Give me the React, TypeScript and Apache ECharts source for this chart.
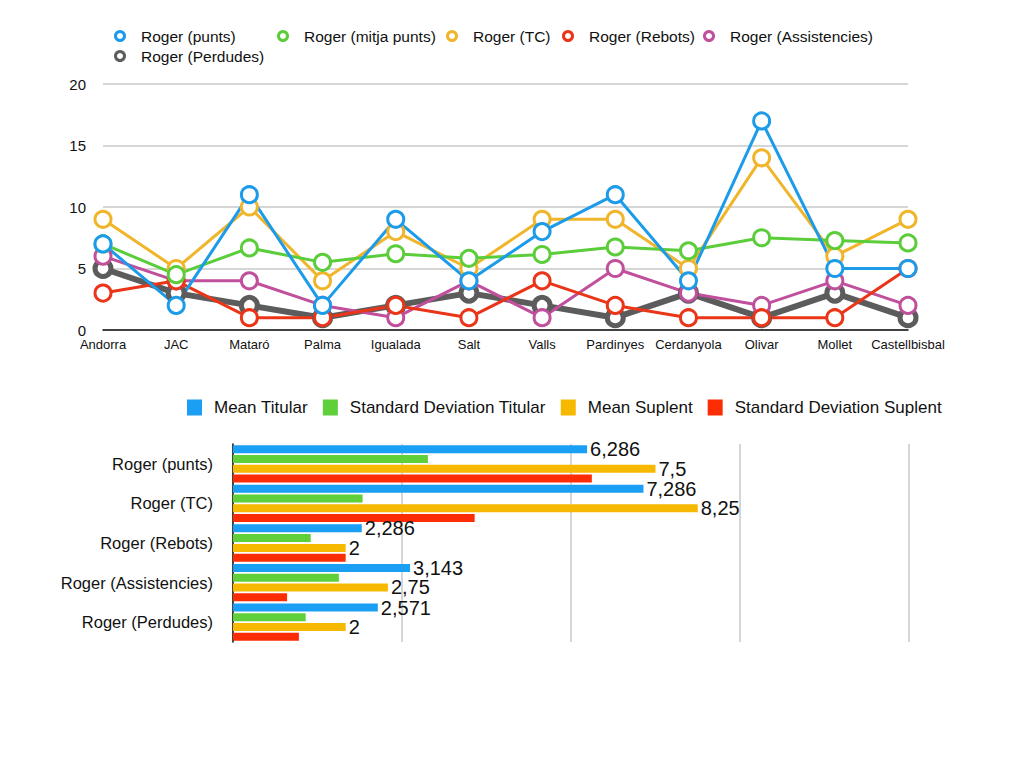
import React, { useEffect, useRef } from "react";
import * as echarts from "echarts";

const games = ["Andorra", "JAC", "Mataró", "Palma", "Igualada", "Salt", "Valls", "Pardinyes", "Cerdanyola", "Olivar", "Mollet", "Castellbisbal"];
const punts = [7, 2, 11, 2, 9, 4, 8, 11, 4, 17, 5, 5];
const mitjaPunts = [7, 4.5, 6.67, 5.5, 6.2, 5.83, 6.14, 6.75, 6.44, 7.5, 7.27, 7.08];
const tc = [9, 5, 10, 4, 8, 5, 9, 9, 5, 14, 6, 9];
const rebots = [3, 4, 1, 1, 2, 1, 4, 2, 1, 1, 1, 5];
const assistencies = [6, 4, 4, 2, 1, 4, 1, 5, 3, 2, 4, 2];
const perdudes = [5, 3, 2, 1, 2, 3, 2, 1, 3, 1, 3, 1];
const lineTicks = [0, 5, 10, 15, 20];

const statCategories = ["Roger (punts)", "Roger (TC)", "Roger (Rebots)", "Roger (Assistencies)", "Roger (Perdudes)"];
const meanTitular = [6.286, 7.286, 2.286, 3.143, 2.571];
const sdTitular = [3.46, 2.3, 1.38, 1.88, 1.29];
const meanSuplent = [7.5, 8.25, 2, 2.75, 2];
const sdSuplent = [6.37, 4.29, 2.0, 0.96, 1.17];

const FONT = "'Liberation Sans', Arial, Helvetica, sans-serif";

const lineDefs = [
  { name: "Roger (punts)", data: punts, color: "#1b9be9", left: 109, top: 23 },
  { name: "Roger (mitja punts)", data: mitjaPunts, color: "#5ccd3a", left: 272, top: 23 },
  { name: "Roger (TC)", data: tc, color: "#f0b52a", left: 441, top: 23 },
  { name: "Roger (Rebots)", data: rebots, color: "#ea3518", left: 557, top: 23 },
  { name: "Roger (Assistencies)", data: assistencies, color: "#c04f9c", left: 698, top: 23 },
  { name: "Roger (Perdudes)", data: perdudes, color: "#5c5c5c", left: 109, top: 43 },
];

const barDefs = [
  { name: "Mean Titular", data: meanTitular, color: "#1a9ff5", label: true },
  { name: "Standard Deviation Titular", data: sdTitular, color: "#5fd03a", label: false },
  { name: "Mean Suplent", data: meanSuplent, color: "#f7b900", label: true },
  { name: "Standard Deviation Suplent", data: sdSuplent, color: "#fc2d05", label: false },
];

export default function App() {
  const ref = useRef<HTMLDivElement>(null);
  useEffect(() => {
    if (!ref.current) return;
    const chart = echarts.init(ref.current, undefined, { renderer: "svg" });

    const lineLegends = lineDefs.map((d) => ({
      data: [
        {
          name: d.name,
          icon: "circle",
          itemStyle: { color: "#fff", borderColor: d.color, borderWidth: 3 },
        },
      ],
      left: d.left,
      top: d.top,
      itemWidth: 10,
      itemHeight: 9,
      textStyle: { fontFamily: FONT, fontSize: 15.5, color: "#111", padding: [0, 0, 0, 11] },
    }));

    const lineSeries = lineDefs
      .slice()
      .reverse()
      .map((d) => {
        const grey = d.name === "Roger (Perdudes)";
        return {
          name: d.name,
          type: "line",
          xAxisIndex: 0,
          yAxisIndex: 0,
          data: d.data,
          symbol: "circle",
          symbolSize: 16,
          showAllSymbol: true,
          lineStyle: { color: d.color, width: grey ? 6 : 3 },
          itemStyle: { color: "#fff", borderColor: d.color, borderWidth: grey ? 5 : 3 },
          emphasis: { disabled: true },
        };
      });

    const barSeries = barDefs.map((d) => ({
      name: d.name,
      type: "bar",
      xAxisIndex: 1,
      yAxisIndex: 1,
      data: d.data,
      barWidth: 8,
      barGap: "22%",
      itemStyle: { color: d.color },
      label: {
        show: d.label,
        position: "right",
        distance: 3,
        fontFamily: FONT,
        fontSize: 20,
        color: "#111",
        formatter: (p: any) => String(p.value).replace(".", ","),
      },
      emphasis: { disabled: true },
    }));

    chart.setOption({
      animation: false,
      backgroundColor: "#fff",
      textStyle: { fontFamily: FONT },
      legend: [
        ...lineLegends,
        {
          data: barDefs.map((d) => ({ name: d.name, icon: "rect", itemStyle: { color: d.color } })),
          left: 182,
          top: 394,
          itemWidth: 15,
          itemHeight: 16,
          itemGap: 15,
          textStyle: { fontFamily: FONT, fontSize: 17, color: "#111", padding: [0, 0, 0, 7] },
        },
      ],
      grid: [
        { left: 103, right: 116, top: 84, bottom: 438, containLabel: false },
        { left: 233, right: 115, top: 444, bottom: 126, containLabel: false },
      ],
      xAxis: [
        {
          type: "category",
          gridIndex: 0,
          data: games,
          boundaryGap: false,
          axisLine: { lineStyle: { color: "#111", width: 1.5 } },
          axisTick: { show: false },
          axisLabel: { fontFamily: FONT, fontSize: 13, color: "#111", margin: 8, interval: 0 },
          splitLine: { show: false },
        },
        {
          type: "value",
          gridIndex: 1,
          min: 0,
          max: 12,
          interval: 3,
          axisLine: { show: false },
          axisTick: { show: false },
          axisLabel: { show: false },
          splitLine: { lineStyle: { color: "#c8c8c8", width: 1.5 } },
        },
      ],
      yAxis: [
        {
          type: "value",
          gridIndex: 0,
          min: lineTicks[0],
          max: lineTicks[lineTicks.length - 1],
          interval: 5,
          axisLine: { show: false },
          axisTick: { show: false },
          axisLabel: { fontFamily: FONT, fontSize: 15, color: "#111", margin: 17 },
          splitLine: { lineStyle: { color: "#c8c8c8", width: 1.5 } },
        },
        {
          type: "category",
          gridIndex: 1,
          data: statCategories,
          inverse: true,
          axisLine: { lineStyle: { color: "#111", width: 1.5 } },
          axisTick: { show: false },
          axisLabel: { fontFamily: FONT, fontSize: 16.5, color: "#111", margin: 20 },
        },
      ],
      series: [...lineSeries, ...barSeries],
    });
    return () => chart.dispose();
  }, []);
  return (
    <div
      ref={ref}
      style={{ position: "absolute", left: 0, top: 0, width: 1024, height: 768 }}
    />
  );
}
